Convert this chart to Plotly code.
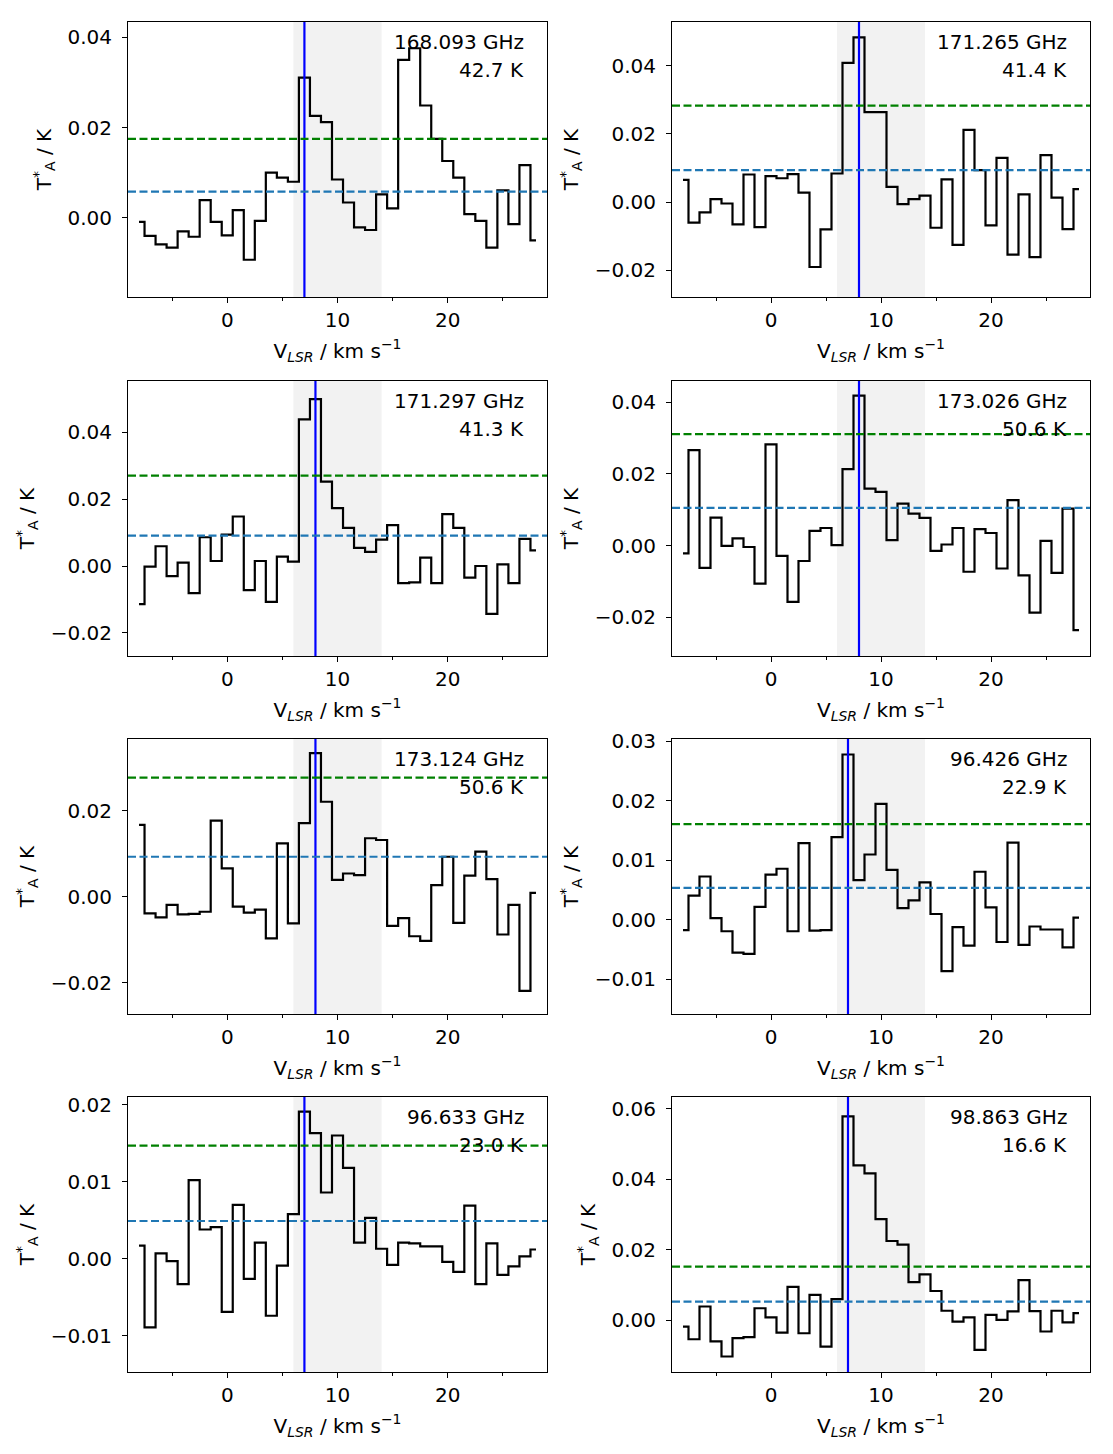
import plotly.graph_objects as go

# ---------------- data ----------------
velocity = [-8.0 + k for k in range(37)]  # channel centres, km/s

ta_168093 = [-0.0009, -0.0040, -0.0059, -0.0066, -0.0030, -0.0042, 0.0039, -0.0009, -0.0039, 0.0017,
             -0.0093, -0.0007, 0.0100, 0.0089, 0.0080, 0.0311, 0.0226, 0.0212, 0.0085, 0.0034,
             -0.0021, -0.0027, 0.0052, 0.0021, 0.0350, 0.0376, 0.0249, 0.0175, 0.0126, 0.0089,
             0.0008, -0.0007, -0.0066, 0.0061, -0.0014, 0.0117, -0.0050]
ta_171265 = [0.0065, -0.0060, -0.0030, 0.0009, -0.0004, -0.0065, 0.0081, -0.0073, 0.0076, 0.0070,
             0.0082, 0.0028, -0.0190, -0.0080, 0.0084, 0.0408, 0.0483, 0.0264, 0.0264, 0.0045,
             -0.0006, 0.0009, 0.0019, -0.0075, 0.0067, -0.0125, 0.0212, 0.0094, -0.0068, 0.0130,
             -0.0154, 0.0023, -0.0161, 0.0138, 0.0013, -0.0079, 0.0038]
ta_171297 = [-0.0114, -0.0002, 0.0059, -0.0030, 0.0010, -0.0081, 0.0086, 0.0015, 0.0094, 0.0148,
             -0.0072, 0.0015, -0.0107, 0.0028, 0.0013, 0.0438, 0.0499, 0.0252, 0.0173, 0.0114,
             0.0054, 0.0042, 0.0079, 0.0122, -0.0051, -0.0049, 0.0025, -0.0051, 0.0155, 0.0114,
             -0.0035, 0.0000, -0.0143, 0.0005, -0.0051, 0.0081, 0.0047]
ta_173026 = [-0.0022, 0.0266, -0.0062, 0.0078, -0.0001, 0.0020, -0.0004, -0.0106, 0.0282, -0.0029,
             -0.0157, -0.0043, 0.0041, 0.0049, 0.0001, 0.0213, 0.0418, 0.0159, 0.0150, 0.0015,
             0.0117, 0.0089, 0.0077, -0.0015, 0.0003, 0.0049, -0.0073, 0.0046, 0.0035, -0.0064,
             0.0127, -0.0083, -0.0187, 0.0013, -0.0076, 0.0103, -0.0236]
ta_173124 = [0.0167, -0.0039, -0.0048, -0.0019, -0.0041, -0.0040, -0.0035, 0.0177, 0.0066, -0.0023,
             -0.0037, -0.0030, -0.0097, 0.0124, -0.0062, 0.0171, 0.0334, 0.0221, 0.0039, 0.0054,
             0.0050, 0.0136, 0.0132, -0.0068, -0.0050, -0.0092, -0.0103, 0.0027, 0.0093, -0.0061,
             0.0049, 0.0105, 0.0041, -0.0088, -0.0019, -0.0219, 0.0009]
ta_96426 = [-0.0017, 0.0041, 0.0073, 0.0003, -0.0019, -0.0055, -0.0057, 0.0022, 0.0076, 0.0086,
            -0.0019, 0.0129, -0.0018, -0.0017, 0.0139, 0.0278, 0.0067, 0.0110, 0.0195, 0.0084,
            0.0020, 0.0033, 0.0063, 0.0010, -0.0086, -0.0012, -0.0043, 0.0081, 0.0021, -0.0037,
            0.0130, -0.0042, -0.0011, -0.0016, -0.0016, -0.0046, 0.0004]
ta_96633 = [0.0017, -0.0089, 0.0007, -0.0003, -0.0033, 0.0102, 0.0038, 0.0041, -0.0069, 0.0070,
            -0.0026, 0.0021, -0.0074, -0.0009, 0.0058, 0.0191, 0.0163, 0.0086, 0.0160, 0.0118,
            0.0021, 0.0053, 0.0013, -0.0008, 0.0021, 0.0020, 0.0016, 0.0016, -0.0004, -0.0017,
            0.0069, -0.0033, 0.0020, -0.0021, -0.0010, 0.0003, 0.0012]
ta_98863 = [-0.0018, -0.0054, 0.0039, -0.0060, -0.0103, -0.0051, -0.0048, 0.0034, 0.0008, -0.0035,
            0.0095, -0.0037, 0.0072, -0.0075, 0.0060, 0.0579, 0.0440, 0.0417, 0.0287, 0.0225,
            0.0215, 0.0108, 0.0130, 0.0083, 0.0027, -0.0004, 0.0008, -0.0084, 0.0015, 0.0001,
            0.0025, 0.0114, 0.0026, -0.0032, 0.0027, -0.0006, 0.0020]

spectra = [ta_168093, ta_171265, ta_171297, ta_173026, ta_173124, ta_96426, ta_96633, ta_98863]
freq_labels = ["168.093 GHz", "171.265 GHz", "171.297 GHz", "173.026 GHz",
               "173.124 GHz", "96.426 GHz", "96.633 GHz", "98.863 GHz"]
eup_labels = ["42.7 K", "41.4 K", "41.3 K", "50.6 K", "50.6 K", "22.9 K", "23.0 K", "16.6 K"]
v_line = [7, 8, 8, 8, 8, 7, 7, 7]
sigma3 = [0.0175, 0.0283, 0.0270, 0.0311, 0.0277, 0.0161, 0.0147, 0.0152]
sigma1 = [0.0058, 0.0094, 0.0091, 0.0105, 0.0093, 0.0054, 0.0049, 0.0053]
shade_range = [6, 14]
x_range = [-9, 29]
y_ranges = [[-0.01756, 0.04342], [-0.0278, 0.0528], [-0.0269, 0.0553], [-0.0308, 0.0459],
            [-0.0273, 0.0367], [-0.0158, 0.0304], [-0.0147, 0.0210], [-0.0147, 0.0634]]
y_dticks = [0.02, 0.02, 0.02, 0.02, 0.02, 0.01, 0.01, 0.02]

# ---------------- layout ----------------
W, H = 1113, 1454
col_px = [(128, 547), (672, 1090)]
row_px = [(22, 297), (381, 656), (739, 1014), (1097, 1372)]
FONT = "DejaVu Sans"
FS = 20
LW = 2.2

fig = go.Figure()
layout = dict(
    width=W, height=H, margin=dict(l=0, r=0, t=0, b=0, pad=0, autoexpand=False),
    paper_bgcolor="white", plot_bgcolor="white",
    showlegend=False, font=dict(family=FONT, size=FS, color="black"),
)
shapes = []
annotations = []

for i in range(8):
    r, c = divmod(i, 2)
    n = i + 1
    xa = "xaxis" if n == 1 else f"xaxis{n}"
    ya = "yaxis" if n == 1 else f"yaxis{n}"
    xr = "x" if n == 1 else f"x{n}"
    yr = "y" if n == 1 else f"y{n}"
    x0, x1 = col_px[c]
    y0, y1 = row_px[r]
    layout[xa] = dict(
        domain=[x0 / W, x1 / W], range=x_range, anchor=yr, automargin=False,
        showline=True, linecolor="black", linewidth=1, mirror=True,
        ticks="outside", ticklen=5, tickwidth=1, tickcolor="black",
        tickmode="linear", tick0=0, dtick=10, showgrid=False, zeroline=False,
        minor=dict(ticks="outside", ticklen=3, tickwidth=1, tickcolor="black",
                   tick0=-5, dtick=10, showgrid=False),
        ticklabelstandoff=0,
        tickfont=dict(family=FONT, size=FS, color="black"),
        title=dict(text="V<sub><i>LSR</i></sub> / km s<sup>−1</sup>",
                   font=dict(family=FONT, size=FS, color="black"), standoff=12),
    )
    layout[ya] = dict(
        domain=[1 - y1 / H, 1 - y0 / H], range=y_ranges[i], anchor=xr, automargin=False,
        showline=True, linecolor="black", linewidth=1, mirror=True,
        ticks="outside", ticklen=5, tickwidth=1, tickcolor="black",
        tickmode="linear", tick0=0, dtick=y_dticks[i], tickformat=".2f",
        showgrid=False, zeroline=False, ticklabelstandoff=6,
        tickfont=dict(family=FONT, size=FS, color="black"),
        title=dict(text="T<sup>*</sup><sub>A</sub> / K",
                   font=dict(family=FONT, size=FS, color="black"), standoff=10),
    )
    # shaded velocity window
    shapes.append(dict(type="rect", xref=xr, yref=f"{yr} domain",
                       x0=shade_range[0], x1=shade_range[1], y0=0, y1=1,
                       fillcolor="#f2f2f2", line=dict(width=0), layer="below"))
    # spectrum
    fig.add_trace(go.Scatter(x=velocity, y=spectra[i], mode="lines",
                             line=dict(color="black", width=LW, shape="hvh"),
                             xaxis=xr, yaxis=yr, hoverinfo="skip"))
    # vertical line at source velocity
    fig.add_trace(go.Scatter(x=[v_line[i], v_line[i]], y=y_ranges[i], mode="lines",
                             line=dict(color="#0000ff", width=LW),
                             xaxis=xr, yaxis=yr, hoverinfo="skip"))
    # sigma levels
    fig.add_trace(go.Scatter(x=x_range, y=[sigma3[i], sigma3[i]], mode="lines",
                             line=dict(color="#008000", width=LW, dash="8px,3.5px"),
                             xaxis=xr, yaxis=yr, hoverinfo="skip"))
    fig.add_trace(go.Scatter(x=x_range, y=[sigma1[i], sigma1[i]], mode="lines",
                             line=dict(color="#1f77b4", width=LW, dash="8px,3.5px"),
                             xaxis=xr, yaxis=yr, hoverinfo="skip"))
    ph = y1 - y0
    annotations.append(dict(xref=f"{xr} domain", yref=f"{yr} domain",
                            x=0.95, y=1 - 20 / ph, xanchor="right", yanchor="middle",
                            text=freq_labels[i], showarrow=False,
                            font=dict(family=FONT, size=FS, color="black")))
    annotations.append(dict(xref=f"{xr} domain", yref=f"{yr} domain",
                            x=0.95, y=1 - 48 / ph, xanchor="right", yanchor="middle",
                            text=eup_labels[i], showarrow=False,
                            font=dict(family=FONT, size=FS, color="black")))

layout["shapes"] = shapes
layout["annotations"] = annotations
fig.update_layout(**layout)
fig.write_html("out.html")
